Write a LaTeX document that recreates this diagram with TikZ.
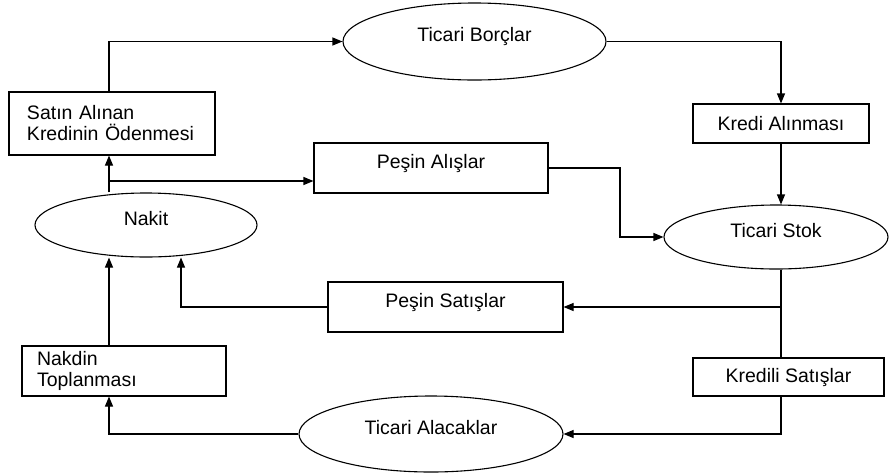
\documentclass[tikz,border=0pt]{standalone}
\usepackage{fontspec}
\setmainfont{Liberation Sans}
\usetikzlibrary{shapes.geometric,arrows.meta}
\tikzset{
	box/.style={draw, rectangle, inner sep=0pt, line width=1.1pt},
	oval/.style={draw, ellipse, inner sep=0pt, line width=1.1pt, text height=14pt, text depth=14pt},
	raised/.style={text height=14pt, text depth=14pt},
	flow/.style={-{Triangle[length=10pt,width=8pt]}, line width=1.1pt}
}
\begin{document}
\begin{tikzpicture}[x=1pt,y=-1pt,font=\fontsize{19.5}{21}\selectfont]
				\useasboundingbox (0,0) rectangle (889,475);
				% Ovals
				\node [oval, minimum width=263pt, minimum height=77pt] (borc) at (474.5,41.5) {Ticari Borçlar};
				\node [oval, minimum width=222pt, minimum height=64pt] (nakit) at (146,225) {Nakit};
				\node [oval, minimum width=224pt, minimum height=64pt] (stok) at (776,237) {Ticari Stok};
				\node [oval, minimum width=264pt, minimum height=76pt] (alacak) at (431,434) {Ticari Alacaklar};
				% Boxes
				\node [box, align=left, text width=170pt, inner xsep=18pt, minimum height=63pt] (sat) at (112,123.5) {Satın Alınan\\Kredinin Ödenmesi};
				\node [box, raised, minimum width=234pt, minimum height=50pt] (pal) at (431,168) {Peşin Alışlar};
				\node [box, minimum width=176pt, minimum height=39pt] (kredi) at (781,123.5) {Kredi Alınması};
				\node [box, raised, minimum width=235pt, minimum height=50pt] (psat) at (445.5,307) {Peşin Satışlar};
				\node [box, minimum width=191pt, minimum height=38pt] (kred) at (788.5,377) {Kredili Satışlar};
				\node [box, align=left, text width=174pt, inner xsep=15pt, minimum height=50pt] (nakdin) at (124,371) {Nakdin\\Toplanması};
				% Lines
				\coordinate (lx) at (109,0);
				\coordinate (mx) at (181,0);
				\coordinate (px) at (620,0);
				\coordinate (rx) at (781,0);
				\coordinate (split) at (109,181);
				\draw [flow] (sat.north -| lx) |- (borc.west);
				\draw [flow] (borc.east) -| (kredi.north);
				\draw [flow] (kredi.south) -- (kredi.south |- stok.north);
				\draw [flow] (nakit.north -| lx) -- (sat.south -| lx);
				\draw [flow] (split) -- (split -| pal.west);
				\draw [flow] (pal.east) -| (px |- stok.west) -- (stok.west);
				\draw [line width=1.1pt] (stok.south -| rx) -- (kred.north -| rx);
				\draw [flow] (rx |- psat.east) -- (psat.east);
				\draw [flow] (kred.south -| rx) |- (alacak.east);
				\draw [flow] (alacak.west) -| (nakdin.south -| lx);
				\draw [flow] (nakdin.north -| lx) -- (lx |- nakit.south);
				\draw [flow] (psat.west) -| (mx |- nakit.south);
			\end{tikzpicture}
\end{document}
